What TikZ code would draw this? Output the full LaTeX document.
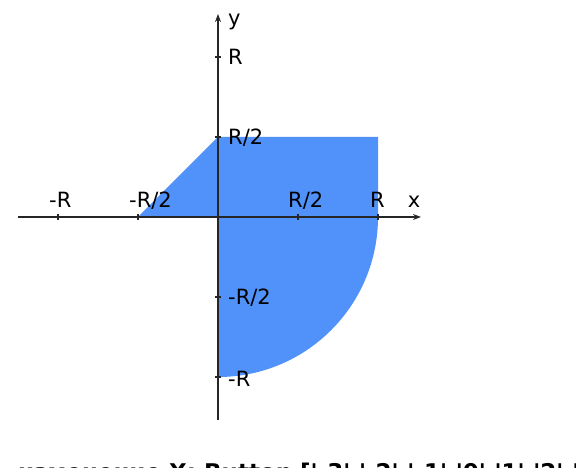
\documentclass[tikz,border=0pt]{standalone}
\usepackage{fontspec}
\setmainfont{DejaVu Sans}
\usetikzlibrary{arrows.meta,positioning}
\definecolor{areablue}{RGB}{80,146,250}
\newcommand{\sq}{\textquotesingle}

\begin{document}
\begin{tikzpicture}[x=1pt, y=1pt, >={Stealth[length=8pt,width=6pt]},
axis/.style={line width=1.5pt, black!85},
tick/.style={line width=1.3pt, black!85},
lbl/.style={inner sep=0pt, font=\fontsize{21}{25}\selectfont},
status/.style={inner sep=0pt, anchor=base west, font=\bfseries\fontsize{23}{27}\selectfont}]
\useasboundingbox (-218,-251) rectangle (358,217);
% shaded region
\fill[areablue] (-80,0) -- (0,80) -- (160,80) -- (160,0) arc[start angle=0, end angle=-90, radius=160] -- (0,0) -- cycle;
% axes
\coordinate (xstart) at (-200,0); \coordinate (xend) at (203,0);
\coordinate (ystart) at (0,-203); \coordinate (yend) at (0,203);
\draw[axis, ->] (xstart) -- (xend);
\draw[axis, ->] (ystart) -- (yend);
\foreach \t in {-160,-80,80,160} {\draw[tick] (\t,-3) -- (\t,3); \draw[tick] (-3,\t) -- (3,\t);}
% x labels
\node[lbl, anchor=base west] (xmR) at (-169,9) {-R};
\node[lbl, anchor=base west] (xmRh) at (-89,9) {-R/2};
\node[lbl, anchor=base west] (xRh) at (70,9) {R/2};
\node[lbl, anchor=base west] (xR) at (152,9) {R};
\node[lbl, anchor=base] (xname) at (196,9) {x};
% y labels
\node[lbl, anchor=base west] (yR) at (10,152) {R};
\node[lbl, anchor=base west] (yRh) at (10,72) {R/2};
\node[lbl, anchor=base west] (ymRh) at (10,-88) {-R/2};
\node[lbl, anchor=base west] (ymR) at (10,-170) {-R};
\node[lbl, anchor=base west] (yname) at (10,191) {y};
% status line below the plot
\node[status] (msg) at (-200,-264) {изменение X: Button [\sq-3\sq,\sq-2\sq,\sq-1\sq,\sq0\sq,\sq1\sq,\sq2\sq,\sq3\sq]};
\end{tikzpicture}
\end{document}
